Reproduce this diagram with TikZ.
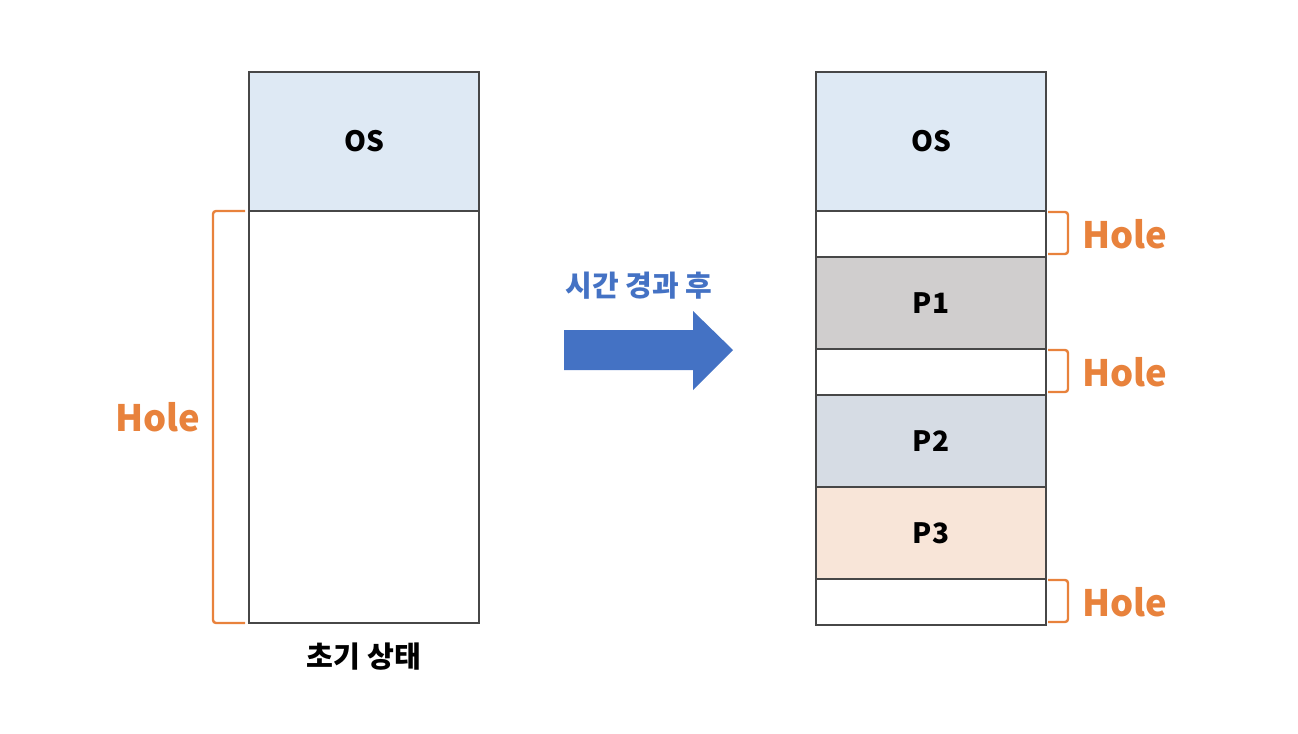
\documentclass[tikz,border=0pt]{standalone}
\usepackage{fontspec}
\setmainfont{Noto Sans CJK KR}
\usetikzlibrary{positioning}
\definecolor{osblue}{HTML}{DEE9F4}
\definecolor{ponegray}{HTML}{D0CECE}
\definecolor{ptwoblue}{HTML}{D6DCE4}
\definecolor{pthreepeach}{HTML}{F8E5D8}
\definecolor{holeorange}{HTML}{E8823C}
\definecolor{arrowblue}{HTML}{4472C4}

\begin{document}
\begin{tikzpicture}[x=.5pt,y=-.5pt,
  mem/.style={draw=black!72,line width=.8pt,minimum width=115pt,inner sep=0pt,outer sep=0pt,
    font=\bfseries\fontsize{14}{14}\selectfont},
  brace/.style={draw=holeorange,line width=1.2pt,rounded corners=1.5pt},
  holetext/.style={text=holeorange,inner sep=0pt,font=\bfseries\fontsize{18.2}{18.2}\selectfont}]
\useasboundingbox (0,0) rectangle (1298,734);
% initial state
\node[mem,fill=osblue,minimum height=69.5pt,anchor=north west] (os1) at (249,72) {OS};
\node[mem,minimum height=206pt,below=0pt of os1] (h1) {};
\node[font=\bfseries\fontsize{14.6}{14.6}\selectfont] (init) at (364,657) {초기 상태};
\draw[brace] ([xshift=-2pt]h1.north west) -- ++(-32,0) |- ([xshift=-2pt]h1.south west);
\node[holetext] (hl1) at (158,417) {Hole};
% after some time
\node[mem,fill=osblue,minimum height=69.5pt,anchor=north west] (os2) at (816,72) {OS};
\node[mem,minimum height=23pt,below=0pt of os2] (h2) {};
\node[mem,fill=ponegray,minimum height=46pt,below=0pt of h2] (p1) {P1};
\node[mem,minimum height=23pt,below=0pt of p1] (h3) {};
\node[mem,fill=ptwoblue,minimum height=46pt,below=0pt of h3] (p2) {P2};
\node[mem,fill=pthreepeach,minimum height=46pt,below=0pt of p2] (p3) {P3};
\node[mem,minimum height=23pt,below=0pt of p3] (h4) {};
\foreach \h in {h2,h3,h4}{
  \draw[brace] ([xshift=1pt,yshift=-.5pt]\h.north east) -- ++(20,0)
    |- ([xshift=1pt,yshift=1.5pt]\h.south east);
  \node[holetext,right=18pt of \h.east] (l\h) {Hole};
}
% arrow
\fill[arrowblue] (564,330) -- (693,330) -- (693,311) -- (733,350) -- (693,390)
  -- (693,370) -- (564,370) -- cycle;
\node[text=arrowblue,font=\bfseries\fontsize{14.5}{14.5}\selectfont] (later) at (639,286) {시간 경과 후};
\end{tikzpicture}
\end{document}
